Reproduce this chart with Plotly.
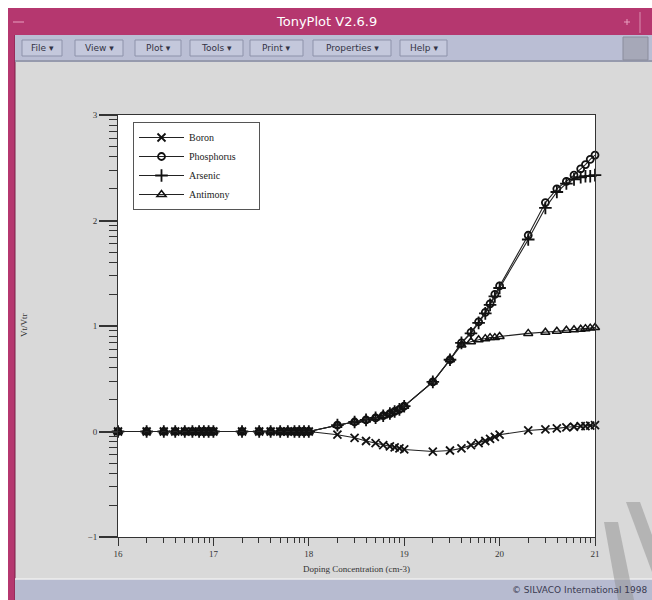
import plotly.graph_objects as go
import math

# ---------------- data ----------------
log_conc = [16.0, 16.3, 16.48, 16.6, 16.7, 16.78, 16.85, 16.9, 16.95,
            17.0, 17.3, 17.48, 17.6, 17.7, 17.78, 17.85, 17.9, 17.95,
            18.0, 18.3, 18.48, 18.6, 18.7, 18.78, 18.85, 18.9, 18.95,
            19.0, 19.3, 19.48, 19.6, 19.7, 19.78, 19.85, 19.9, 19.95,
            20.0, 20.3, 20.48, 20.6, 20.7, 20.78, 20.85, 20.9, 20.95, 21.0]

boron = [0, 0, 0, 0, 0, 0, 0, 0, 0,
         0, 0, 0, 0, 0, 0, 0, 0, 0,
         0, -0.03, -0.06, -0.09, -0.11, -0.13, -0.14, -0.15, -0.16,
         -0.17, -0.19, -0.18, -0.16, -0.13, -0.11, -0.09, -0.07, -0.05,
         -0.03, 0.01, 0.02, 0.03, 0.04, 0.045, 0.05, 0.05, 0.055, 0.06]

phosphorus = [0, 0, 0, 0, 0, 0, 0, 0, 0,
              0, 0, 0, 0, 0, 0, 0, 0, 0,
              0, 0.06, 0.09, 0.11, 0.13, 0.15, 0.17, 0.19, 0.21,
              0.24, 0.47, 0.68, 0.84, 0.94, 1.04, 1.13, 1.21, 1.30,
              1.38, 1.86, 2.17, 2.30, 2.37, 2.43, 2.49, 2.53, 2.58, 2.62]

arsenic = [0, 0, 0, 0, 0, 0, 0, 0, 0,
           0, 0, 0, 0, 0, 0, 0, 0, 0,
           0, 0.06, 0.09, 0.11, 0.13, 0.15, 0.17, 0.19, 0.21,
           0.24, 0.47, 0.68, 0.84, 0.93, 1.03, 1.12, 1.20, 1.28,
           1.36, 1.82, 2.12, 2.27, 2.35, 2.39, 2.41, 2.42, 2.42, 2.43]

antimony = [0, 0, 0, 0, 0, 0, 0, 0, 0,
            0, 0, 0, 0, 0, 0, 0, 0, 0,
            0, 0.06, 0.09, 0.11, 0.13, 0.15, 0.17, 0.19, 0.21,
            0.24, 0.47, 0.68, 0.82, 0.85, 0.87, 0.88, 0.89, 0.89,
            0.90, 0.93, 0.94, 0.95, 0.96, 0.965, 0.97, 0.975, 0.98, 0.985]

series_names = ["Boron", "Phosphorus", "Arsenic", "Antimony"]
x_ticks = [16, 17, 18, 19, 20, 21]
x_ticktext = ["16", "17", "18", "19", "20", "21"]
y_ticks = [-1, 0, 1, 2, 3]
y_ticktext = ["\u22121", "0", "1", "2", "3"]

# ---------------- geometry helpers ----------------
W, H = 652, 600
L, R, T, B = 118, 595, 115, 537


def px(x):
    return (x - L) / (R - L)


def py(y):
    return (B - y) / (B - T)


SERIF = "Liberation Serif"
SANS = "DejaVu Sans"

fig = go.Figure()

styles = [
    dict(symbol="x-thin", size=8, line=dict(width=1.8, color="#111")),
    dict(symbol="circle-open", size=7, line=dict(width=1.8, color="#111")),
    dict(symbol="cross-thin", size=9, line=dict(width=1.8, color="#111")),
    dict(symbol="triangle-up-open", size=8, line=dict(width=1.5, color="#111")),
]
PAD = "\u00a0" * 7
for name, ys, mk in zip(series_names, [boron, phosphorus, arsenic, antimony], styles):
    fig.add_trace(go.Scatter(
        x=log_conc, y=ys, name=name + (PAD if name == "Phosphorus" else ""),
        mode="lines+markers",
        line=dict(color="#222", width=1.1),
        marker=dict(color="#111", **mk),
        cliponaxis=False,
    ))

# minor ticks (log-style spacing within each unit)
x_minor = [n + math.log10(k) for n in range(16, 21) for k in range(2, 10)]
y_minor = [n + math.log10(k) for n in range(-1, 3) for k in range(2, 10)]

axis_common = dict(showgrid=False, zeroline=False, showline=True, linecolor="#333",
                   linewidth=1, mirror=True, ticks="outside", tickcolor="#333",
                   tickfont=dict(family=SERIF, size=9, color="#333"))

fig.update_xaxes(range=[16, 21], tickmode="array", tickvals=x_ticks, ticktext=x_ticktext,
                 ticklen=8, tickwidth=1,
                 minor=dict(tickmode="array", tickvals=x_minor, ticks="outside",
                            ticklen=5, tickcolor="#333", tickwidth=1),
                 **axis_common)
fig.update_yaxes(range=[-1, 3], tickmode="array", tickvals=y_ticks, ticktext=y_ticktext,
                 ticklen=18, tickwidth=1.5,
                 minor=dict(tickmode="array", tickvals=y_minor, ticks="outside",
                            ticklen=8, tickcolor="#333", tickwidth=1),
                 **axis_common)

shapes = []


def rect(x0, y0, x1, y1, fill, line=None, lw=0, layer="above"):
    shapes.append(dict(type="rect", xref="paper", yref="paper",
                       x0=px(x0), x1=px(x1), y0=py(y1), y1=py(y0),
                       fillcolor=fill, line=dict(color=line or fill, width=lw),
                       layer=layer))


def seg(x0, y0, x1, y1, color, w):
    shapes.append(dict(type="line", xref="paper", yref="paper",
                       x0=px(x0), x1=px(x1), y0=py(y0), y1=py(y1),
                       line=dict(color=color, width=w), layer="above"))


# outside white strips
rect(0, 0, W, 8, "white")
rect(0, 0, 8, H, "white")
# title bar + left border
rect(8, 8, W, 35, "#b5376f")
rect(8, 8, 15, H, "#b5376f")
seg(15, 35, 15, H, "#7a2048", 1)
seg(13, 22, 24, 22, "#e8a0c0", 1)
seg(640, 12, 640, 33, "#d890b0", 1)
seg(624, 22, 630, 22, "#e8a0c0", 1)
seg(627, 19, 627, 25, "#e8a0c0", 1)
# menu bar
rect(15, 35, W, 62, "#babed4")
seg(15, 61, W, 61, "#8a8ea0", 1.5)
rect(623, 37, 648, 60, "#a6a8b8", "#8a8c9c", 1)


def ann(x, y, text, size, color, family=SANS, xanchor="center", **kw):
    return dict(x=px(x), y=py(y), xref="paper", yref="paper", text=text,
                showarrow=False, xanchor=xanchor, yanchor="middle",
                font=dict(family=family, size=size, color=color), **kw)


menu = [("File", 22, 62), ("View", 75, 123), ("Plot", 135, 181), ("Tools", 190, 243),
        ("Print", 250, 303), ("Properties", 313, 391), ("Help", 400, 447)]
annotations = []
for label, a, b in menu:
    rect(a, 40, b, 56, "#c4c8dc", "#8d92aa", 1)
    annotations.append(ann((a + b) / 2, 48, label + " \u25be", 9, "#333344"))

# status bar
rect(15, 579, W, H, "#b7bbd0")
seg(15, 579, W, 579, "#eeeeee", 1.5)

# watermark strokes
shapes.append(dict(type="path", xref="paper", yref="paper",
                   path="M %f,%f L %f,%f L %f,%f L %f,%f Z" % (
                       px(604), py(522), px(618), py(522), px(634), py(600), px(618), py(600)),
                   fillcolor="rgba(150,150,150,0.55)", line=dict(width=0), layer="above"))
shapes.append(dict(type="path", xref="paper", yref="paper",
                   path="M %f,%f L %f,%f L %f,%f L %f,%f Z" % (
                       px(626), py(502), px(640), py(502), px(652), py(535), px(652), py(572)),
                   fillcolor="rgba(150,150,150,0.55)", line=dict(width=0), layer="above"))

annotations += [
    ann(326, 21, "TonyPlot V2.6.9", 13, "white"),
    ann(650, 590, "\u00a9 SILVACO International 1998", 9, "#3a3a50", xanchor="right"),
    ann(356, 569, "Doping Concentration (cm-3)", 9, "#333", family=SERIF),
    ann(24, 325, "Vt/Vtr", 9, "#333", family=SERIF, textangle=-90),
]

fig.update_layout(
    width=W, height=H,
    margin=dict(l=L, r=W - R, t=T, b=H - B, pad=0),
    paper_bgcolor="#d9d9d9", plot_bgcolor="white",
    shapes=shapes, annotations=annotations,
    showlegend=True,
    legend=dict(x=px(133), y=py(122), xanchor="left", yanchor="top",
                bgcolor="white", bordercolor="#555", borderwidth=1,
                font=dict(family=SERIF, size=10, color="#222"),
                itemwidth=45, tracegroupgap=0),
)

fig.write_html("out.html")
